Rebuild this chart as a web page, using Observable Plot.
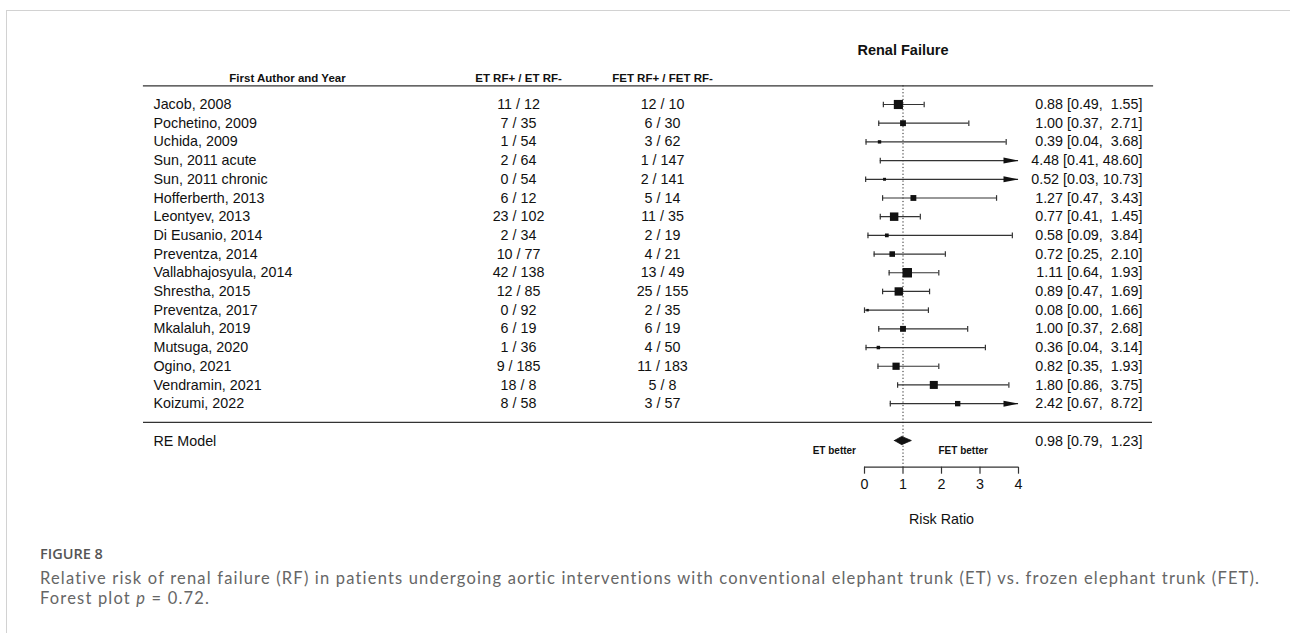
<!DOCTYPE html>
<html>
<head>
<meta charset="utf-8">
<script src="https://cdn.jsdelivr.net/npm/d3@7"></script>
<script src="https://cdn.jsdelivr.net/npm/@observablehq/plot@0.6"></script>
<style>
  html, body { margin: 0; padding: 0; background: #fff; overflow: hidden; width: 1290px; height: 633px; }
  #frame { position: absolute; left: 6px; top: 10px; width: 1400px; height: 800px; border: 1.5px solid #d2d2d2; }
  #chart { position: absolute; left: 0; top: 30px; }
  #caption { position: absolute; left: 40px; top: 544px; color: #666; }
  #caption .fig { font-family: "Open Sans", sans-serif; font-size: 14.5px; font-weight: 600; color: #555; line-height: 20px; }
  #caption .txt { font-family: Lato, "Open Sans", sans-serif; font-size: 16.5px; letter-spacing: 1.18px; line-height: 20px; margin-top: 4px; white-space: nowrap; }
</style>
</head>
<body>
<div id="frame"></div>
<div id="chart"></div>
<div id="caption">
  <div class="fig">FIGURE 8</div>
  <div class="txt">Relative risk of renal failure (RF) in patients undergoing aortic interventions with conventional elephant trunk (ET) vs. frozen elephant trunk (FET).<br>Forest plot <i>p</i> = 0.72.</div>
</div>
<script>
// ---- data ----
const studies = ["Jacob, 2008", "Pochetino, 2009", "Uchida, 2009", "Sun, 2011 acute", "Sun, 2011 chronic",
  "Hofferberth, 2013", "Leontyev, 2013", "Di Eusanio, 2014", "Preventza, 2014", "Vallabhajosyula, 2014",
  "Shrestha, 2015", "Preventza, 2017", "Mkalaluh, 2019", "Mutsuga, 2020", "Ogino, 2021", "Vendramin, 2021", "Koizumi, 2022"];
const etPos  = [11, 7, 1, 2, 0, 6, 23, 2, 10, 42, 12, 0, 6, 1, 9, 18, 8];
const etNeg  = [12, 35, 54, 64, 54, 12, 102, 34, 77, 138, 85, 92, 19, 36, 185, 8, 58];
const fetPos = [12, 6, 3, 1, 2, 5, 11, 2, 4, 13, 25, 2, 6, 4, 11, 5, 3];
const fetNeg = [10, 30, 62, 147, 141, 14, 35, 19, 21, 49, 155, 35, 19, 50, 183, 8, 57];
const rr     = [0.88, 1.00, 0.39, 4.48, 0.52, 1.27, 0.77, 0.58, 0.72, 1.11, 0.89, 0.08, 1.00, 0.36, 0.82, 1.80, 2.42];
const ciLow  = [0.49, 0.37, 0.04, 0.41, 0.03, 0.47, 0.41, 0.09, 0.25, 0.64, 0.47, 0.00, 0.37, 0.04, 0.35, 0.86, 0.67];
const ciHigh = [1.55, 2.71, 3.68, 48.60, 10.73, 3.43, 1.45, 3.84, 2.10, 1.93, 1.69, 1.66, 2.68, 3.14, 1.93, 3.75, 8.72];
const weights = [15.0, 5.0, 1.0, 0.9, 0.6, 5.0, 12.5, 1.4, 4.4, 16.4, 12.2, 0.3, 5.1, 1.1, 8.5, 11.0, 4.0];
const reLabel = "RE Model";
const reEst = 0.98, reLow = 0.79, reHigh = 1.23;
const xTicks = [0, 1, 2, 3, 4];
const nullValue = 1;
const title = "Renal Failure";
const headers = ["First Author and Year", "ET RF+ / ET RF-", "FET RF+ / FET RF-"];
const sideLabels = ["ET better", "FET better"];
const xLabel = "Risk Ratio";

// ---- derived table ----
const xMin = d3.min(xTicks), xMax = d3.max(xTicks);
const f2 = v => v.toFixed(2);
const ciText = (e, lo, hi) => `${f2(e)} [${f2(lo)},\u00A0${hi < 10 ? "\u00A0" : ""}${f2(hi)}]`;
const rows = studies.map((s, i) => ({
  study: s, row: i,
  et: `${etPos[i]} / ${etNeg[i]}`, fet: `${fetPos[i]} / ${fetNeg[i]}`,
  est: rr[i], lo: ciLow[i], hi: ciHigh[i], w: weights[i],
  label: ciText(rr[i], ciLow[i], ciHigh[i])
}));
const nRows = studies.length;
const reRow = nRows + 1;
const axisRow = nRows + 2.4;
const diamondHalf = 0.22;
const diamond = [
  {x: reLow, y1: reRow, y2: reRow},
  {x: reEst, y1: reRow - diamondHalf, y2: reRow + diamondHalf},
  {x: reHigh, y1: reRow, y2: reRow}
];

// custom symbols
const capSymbol = {draw(ctx) { ctx.moveTo(0, -2.8); ctx.lineTo(0, 2.8); }};
const arrowSymbol = {draw(ctx) { ctx.moveTo(0, 0); ctx.lineTo(-15, -3); ctx.lineTo(-15, 3); ctx.closePath(); }};

const font = "'Liberation Sans', Arial, Helvetica, sans-serif";
const fs = 14.3;
const ink = "#111";
const lineCol = "#333";

const chart = Plot.plot({
  width: 1290,
  height: 500,
  marginLeft: 143,
  marginRight: 138,
  marginTop: 55.3,
  marginBottom: 63.3,
  style: {fontFamily: font, fontSize: `${fs}px`, color: ink, background: "transparent"},
  x: {domain: [xMin, xMax], range: [864, 1018], axis: null},
  y: {domain: [-1, axisRow], reverse: true, axis: null},
  r: {type: "pow", exponent: 0.5, domain: d3.extent(weights), range: [1.4, 5.35]},
  marks: [
    // horizontal separators
    Plot.frame({anchor: "top", stroke: lineCol, strokeWidth: 1.2}),
    Plot.ruleY([nRows], {stroke: lineCol, strokeWidth: 1.2}),
    // null line
    Plot.ruleX([nullValue], {stroke: "#222", strokeWidth: 1, strokeDasharray: "1.2,2.2"}),
    // title & headers
    Plot.text([title], {x: nullValue, frameAnchor: "top", lineAnchor: "middle", dy: -35, fontWeight: "bold", fontSize: 14.5, fill: ink}),
    Plot.text([headers[0]], {frameAnchor: "top-left", lineAnchor: "middle", dx: 144, dy: -7.8, textAnchor: "middle", fontWeight: "bold", fontSize: 11.5, fill: ink}),
    Plot.text([headers[1]], {frameAnchor: "top-left", lineAnchor: "middle", dx: 375, dy: -7.8, textAnchor: "middle", fontWeight: "bold", fontSize: 11.5, fill: ink}),
    Plot.text([headers[2]], {frameAnchor: "top-left", lineAnchor: "middle", dx: 519, dy: -7.8, textAnchor: "middle", fontWeight: "bold", fontSize: 11.5, fill: ink}),
    // table columns
    Plot.text(rows, {y: "row", text: "study", frameAnchor: "left", dx: 10, textAnchor: "start", fill: ink}),
    Plot.text(rows, {y: "row", text: "et", frameAnchor: "left", dx: 375, textAnchor: "middle", fill: ink}),
    Plot.text(rows, {y: "row", text: "fet", frameAnchor: "left", dx: 519, textAnchor: "middle", fill: ink}),
    Plot.text(rows, {y: "row", text: "label", frameAnchor: "right", dx: -10, textAnchor: "end", fill: ink}),
    // CI lines
    Plot.ruleY(rows, {y: "row", x1: d => Math.max(d.lo, xMin), x2: d => Math.min(d.hi, xMax), stroke: lineCol, strokeWidth: 1.2}),
    Plot.dot(rows.filter(d => d.lo >= xMin), {x: "lo", y: "row", symbol: capSymbol, fill: "none", stroke: lineCol, strokeWidth: 1.2}),
    Plot.dot(rows.filter(d => d.hi <= xMax), {x: "hi", y: "row", symbol: capSymbol, fill: "none", stroke: lineCol, strokeWidth: 1.2}),
    Plot.dot(rows.filter(d => d.hi > xMax), {x: () => xMax, y: "row", symbol: arrowSymbol, fill: ink, stroke: "none"}),
    // squares
    Plot.dot(rows.filter(d => d.est >= xMin && d.est <= xMax), {x: "est", y: "row", r: "w", symbol: "square", fill: ink, stroke: "none"}),
    // RE model
    Plot.text([reLabel], {y: reRow, frameAnchor: "left", dx: 10, textAnchor: "start", fill: ink}),
    Plot.areaY(diamond, {x: "x", y1: "y1", y2: "y2", fill: ink, stroke: ink, strokeWidth: 0.8}),
    Plot.text([ciText(reEst, reLow, reHigh)], {y: reRow, frameAnchor: "right", dx: -10, textAnchor: "end", fill: ink}),
    // favour labels
    Plot.text([sideLabels[0]], {x: nullValue, y: reRow + 0.5, dx: -47, textAnchor: "end", fontWeight: "bold", fontSize: 10, fill: ink}),
    Plot.text([sideLabels[1]], {x: nullValue, y: reRow + 0.5, dx: 35.5, textAnchor: "start", fontWeight: "bold", fontSize: 10, fill: ink}),
    // axis
    Plot.ruleY([axisRow], {x1: xMin, x2: xMax, stroke: lineCol, strokeWidth: 1.2}),
    Plot.axisX(xTicks, {anchor: "bottom", tickSize: 7, tickPadding: 5, fontSize: fs, label: null, stroke: lineCol, fill: ink, strokeWidth: 1.2}),
    Plot.text([xLabel], {x: (xMin + xMax) / 2, frameAnchor: "bottom", lineAnchor: "middle", dy: 52.3, fontSize: fs, fill: ink})
  ]
});
document.getElementById("chart").appendChild(chart);
</script>
</body>
</html>
